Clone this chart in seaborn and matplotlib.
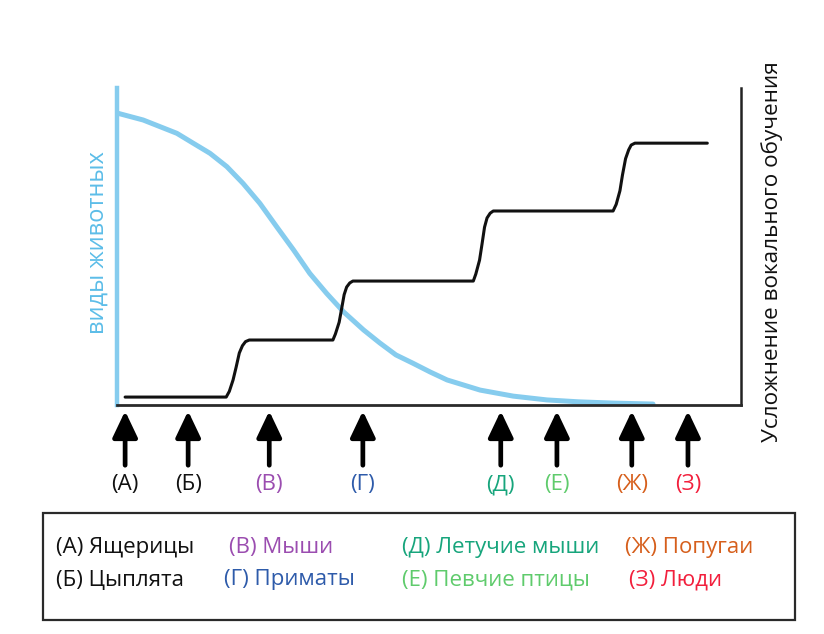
import numpy as np
import pandas as pd
import matplotlib
matplotlib.use('Agg')
import matplotlib.pyplot as plt
from matplotlib.patches import Rectangle
import seaborn as sns

sns.set_theme(style='white')
plt.rcParams['font.family'] = ['Open Sans', 'DejaVu Sans']

# синяя кривая: число видов животных
species_x = [0.2, 4.2, 9.6, 12.2, 14.9, 17.6, 20.2, 22.9, 25.6, 28.3, 30.9, 33.6, 36.3,
             39.5, 42.1, 44.7, 47.4, 50.2, 52.9, 58.2, 63.5, 68.9, 74.0, 79.5, 85.9]
species_y = [92.0, 89.9, 85.7, 82.6, 79.4, 75.2, 69.9, 63.6, 56.2, 48.9, 41.5, 35.2, 29.4,
             23.7, 19.6, 15.8, 13.2, 10.4, 7.9, 4.7, 2.8, 1.6, 1.0, 0.6, 0.3]

# чёрная ступенчатая кривая: усложнение вокального обучения
learning_x = [1.3,
              17.5, 18.0, 18.6, 19.1, 19.6, 20.1, 20.6, 21.2,
              34.6, 35.0, 35.6, 36.0, 36.4, 36.8, 37.3, 37.8,
              57.1, 57.5, 58.1, 58.5, 58.9, 59.3, 59.8, 60.3,
              79.5, 80.0, 80.6, 81.0, 81.5, 82.0, 82.4, 83.0,
              94.6]
learning_y = [2.5,
              2.5, 4.3, 7.9, 12.0, 16.4, 18.7, 20.0, 20.5,
              20.5, 22.4, 26.1, 30.4, 34.8, 37.2, 38.5, 39.1,
              39.1, 41.3, 45.7, 50.8, 56.1, 59.0, 60.5, 61.2,
              61.2, 63.3, 67.6, 72.5, 77.7, 80.5, 82.0, 82.6,
              82.6]

# стрелки под осью
arrow_labels = ['(А)', '(Б)', '(В)', '(Г)', '(Д)', '(Е)', '(Ж)', '(З)']
arrow_x = [1.3, 11.4, 24.4, 39.4, 61.5, 70.5, 82.5, 91.5]
group_colors = ['#111111', '#111111', '#9B4DB0', '#2E5BAA', '#17A57C', '#5FCB6C', '#D65F1C', '#F21F3C']

# легенда
legend_names = ['(А) Ящерицы', '(Б) Цыплята', '(В) Мыши', '(Г) Приматы',
                '(Д) Летучие мыши', '(Е) Певчие птицы', '(Ж) Попугаи', '(З) Люди']

W, H = 824, 634
fig = plt.figure(figsize=(W / 100, H / 100), dpi=100)
ax = fig.add_axes([117 / W, 1 - 405 / H, (741 - 117) / W, (405 - 88) / H])
ax.set_xlim(0, 100)
ax.set_ylim(0, 100)

sns.lineplot(x=species_x, y=species_y, sort=False, estimator=None, ax=ax,
             color='#86CCEE', linewidth=3.6)
sns.lineplot(x=learning_x, y=learning_y, sort=False, estimator=None, ax=ax,
             color='#111111', linewidth=2.2)

ax.set_xticks([])
ax.set_yticks([])
ax.spines['top'].set_visible(False)
ax.spines['left'].set_color('#86CCEE')
ax.spines['left'].set_linewidth(3.2)
ax.spines['bottom'].set_color('#2a2a2a')
ax.spines['bottom'].set_linewidth(2.0)
ax.spines['right'].set_color('#222222')
ax.spines['right'].set_linewidth(1.8)

fig.text(98 / W, 1 - 243 / H, 'виды животных', rotation=90, ha='center', va='center',
         fontsize=17, color='#5CBDE8')
fig.text(772 / W, 1 - 252 / H, 'Усложнение вокального обучения', rotation=90,
         ha='center', va='center', fontsize=16.2, color='#111111')

trans = ax.get_xaxis_transform()
for lab, xv, col in zip(arrow_labels, arrow_x, group_colors):
    ax.annotate('', xy=(xv, -0.019), xytext=(xv, -0.19), xycoords=trans, textcoords=trans,
                arrowprops=dict(arrowstyle='-|>,head_length=0.8,head_width=0.38',
                                color='black', lw=3.4, shrinkA=0, shrinkB=0,
                                mutation_scale=20))
    ax.text(xv, -0.252, lab, transform=trans, ha='center', va='center',
            fontsize=16, color=col)

# рамка легенды
fig.patches.append(Rectangle((43 / W, 1 - 620 / H), (795 - 43) / W, (620 - 513) / H,
                             transform=fig.transFigure, fill=False,
                             edgecolor='#2a2a2a', linewidth=1.6))
legend_pos = [(56, 548), (56, 580), (229, 548), (224, 580),
              (402, 548), (402, 580), (625, 548), (629, 580)]
for name, (px, py), col in zip(legend_names, legend_pos, group_colors):
    fig.text(px / W, 1 - py / H, name, ha='left', va='center', fontsize=16, color=col)

fig.savefig('out.png', dpi=100)
